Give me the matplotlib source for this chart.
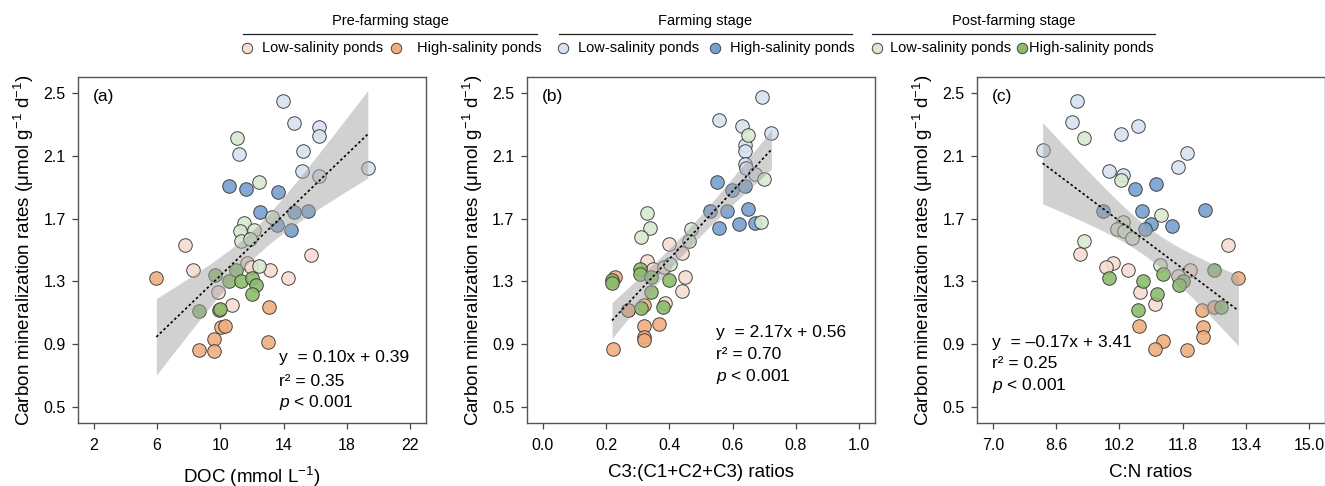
import numpy as np
import matplotlib
matplotlib.use('Agg')
from matplotlib import pyplot as plt
from matplotlib.lines import Line2D

plt.rcParams['font.family'] = ['Liberation Sans', 'DejaVu Sans']
plt.rcParams['mathtext.fontset'] = 'custom'
plt.rcParams['mathtext.rm'] = 'Liberation Sans'
plt.rcParams['mathtext.it'] = 'Liberation Sans:italic'

# groups: pre-farming low/high, farming low/high, post-farming low/high
groups = ['pre_low', 'pre_high', 'farm_low', 'farm_high', 'post_low', 'post_high']
colors = ['#F6DDD2', '#F0AE7E', '#D7E3F1', '#76A0D0', '#D9E9D0', '#8CBC6B']
stages = ['Pre-farming stage', 'Farming stage', 'Post-farming stage']
salinity = ['Low-salinity ponds', 'High-salinity ponds']

# panel (a): DOC
doc_x = [
    [7.77, 8.30, 11.71, 11.92, 13.12, 14.25, 15.76, 9.82, 10.73],
    [5.95, 13.08, 10.04, 10.29, 9.57, 8.63, 9.57, 13.03, 9.93],
    [13.96, 14.65, 16.26, 16.24, 15.2, 11.15, 15.17, 16.26, 19.32],
    [10.52, 11.63, 13.66, 12.49, 14.65, 15.55, 13.58, 14.48],
    [11.08, 12.45, 13.24, 11.5, 11.25, 12.13, 11.33, 11.86, 12.45],
    [9.68, 10.98, 10.56, 11.3, 11.99, 12.24, 11.99, 8.63, 9.99],
]
doc_y = [
    [1.53, 1.37, 1.42, 1.39, 1.37, 1.32, 1.47, 1.23, 1.15],
    [1.32, 1.14, 1.01, 1.02, 0.935, 0.865, 0.86, 0.915, 1.12],
    [2.45, 2.31, 2.28, 2.225, 2.13, 2.11, 2.0, 1.97, 2.02],
    [1.91, 1.89, 1.87, 1.74, 1.74, 1.75, 1.66, 1.63],
    [2.21, 1.935, 1.71, 1.67, 1.62, 1.63, 1.56, 1.57, 1.40],
    [1.34, 1.37, 1.30, 1.30, 1.32, 1.275, 1.22, 1.115, 1.125],
]

# panel (b): C3 ratio
c3_x = [
    [0.400, 0.440, 0.329, 0.347, 0.382, 0.450, 0.440, 0.387, 0.268],
    [0.229, 0.321, 0.271, 0.369, 0.319, 0.319, 0.319, 0.222],
    [0.692, 0.558, 0.629, 0.723, 0.640, 0.640, 0.640, 0.642, 0.671],
    [0.552, 0.599, 0.640, 0.529, 0.581, 0.650, 0.558, 0.620, 0.671],
    [0.650, 0.700, 0.691, 0.329, 0.340, 0.310, 0.469, 0.461, 0.403],
    [0.219, 0.219, 0.306, 0.308, 0.343, 0.400, 0.343, 0.310, 0.380],
]
c3_y = [
    [1.54, 1.48, 1.43, 1.38, 1.39, 1.33, 1.24, 1.16, 1.12],
    [1.33, 1.15, 1.12, 1.03, 1.02, 0.945, 0.925, 0.87],
    [2.47, 2.325, 2.29, 2.245, 2.17, 2.13, 2.045, 2.02, 1.985],
    [1.93, 1.88, 1.91, 1.75, 1.75, 1.76, 1.64, 1.665, 1.67],
    [2.23, 1.95, 1.68, 1.735, 1.64, 1.58, 1.635, 1.56, 1.41],
    [1.31, 1.29, 1.38, 1.345, 1.33, 1.31, 1.23, 1.13, 1.14],
]

# panel (c): C:N
cn_x = [
    [9.21, 10.05, 9.87, 10.43, 12.95, 11.99, 11.67, 10.73, 11.10],
    [13.21, 12.30, 12.59, 10.70, 12.31, 12.31, 11.30, 11.10, 11.90],
    [9.13, 9.0, 10.66, 10.24, 8.26, 11.90, 11.69, 9.93, 10.29],
    [10.60, 11.13, 9.78, 10.77, 12.37, 11.0, 10.85, 11.53],
    [9.30, 10.24, 11.25, 10.29, 10.15, 10.31, 10.52, 9.30, 11.23],
    [12.59, 9.94, 11.30, 10.79, 11.80, 11.72, 11.15, 10.68, 12.76],
]
cn_y = [
    [1.475, 1.42, 1.39, 1.375, 1.535, 1.375, 1.335, 1.235, 1.155],
    [1.32, 1.12, 1.14, 1.02, 1.01, 0.945, 0.92, 0.87, 0.865],
    [2.45, 2.315, 2.29, 2.235, 2.135, 2.115, 2.025, 2.0, 1.975],
    [1.89, 1.92, 1.745, 1.745, 1.755, 1.665, 1.635, 1.65],
    [2.21, 1.945, 1.725, 1.68, 1.635, 1.62, 1.575, 1.555, 1.405],
    [1.375, 1.32, 1.345, 1.30, 1.305, 1.28, 1.22, 1.12, 1.135],
]

panel_labels = ['(a)', '(b)', '(c)']
x_labels = ['DOC (mmol L$^{-1}$)', 'C3:(C1+C2+C3) ratios', 'C:N ratios']
eq_texts = ['y  = 0.10x + 0.39', 'y  = 2.17x + 0.56', 'y  = \u20130.17x + 3.41']
r2_texts = ['r\u00b2 = 0.35', 'r\u00b2 = 0.70', 'r\u00b2 = 0.25']
x_ticks = [[2, 6, 10, 14, 18, 22], [0.0, 0.2, 0.4, 0.6, 0.8, 1.0],
           [7.0, 8.6, 10.2, 11.8, 13.4, 15.0]]
x_ticklabels = [['2', '6', '10', '14', '18', '22'],
                ['0.0', '0.2', '0.4', '0.6', '0.8', '1.0'],
                ['7.0', '8.6', '10.2', '11.8', '13.4', '15.0']]
x_lims = [(1, 23), (-0.05, 1.05), (6.6, 15.4)]
y_ticks = [0.5, 0.9, 1.3, 1.7, 2.1, 2.5]

fig = plt.figure(figsize=(13.25, 4.86), dpi=100)
lefts = [0.0589, 0.3977, 0.7374]
# where the equation text sits (axes fraction), per panel
txt_pos = [(0.577, [0.188, 0.121, 0.058]), (0.543, [0.263, 0.197, 0.133]),
           (0.043, [0.234, 0.171, 0.107])]

all_x = [doc_x, c3_x, cn_x]
all_y = [doc_y, c3_y, cn_y]

for i in range(3):
    ax = fig.add_axes([lefts[i], 0.1296, 0.2626, 0.7119])
    for g in range(6):
        ax.scatter(all_x[i][g], all_y[i][g], s=95, color=colors[g], edgecolor='#333333',
                   linewidth=0.7, alpha=0.9, zorder=2)

    # linear fit + 95% CI of the mean
    xx = np.concatenate([np.array(v) for v in all_x[i]])
    yy = np.concatenate([np.array(v) for v in all_y[i]])
    b, a = np.polyfit(xx, yy, 1)
    n = len(xx)
    resid = yy - (a + b * xx)
    s = np.sqrt(np.sum(resid ** 2) / (n - 2))
    xs = np.linspace(xx.min(), xx.max(), 100)
    se = s * np.sqrt(1 / n + (xs - xx.mean()) ** 2 / np.sum((xx - xx.mean()) ** 2))
    ys = a + b * xs
    ax.fill_between(xs, ys - 2.01 * se, ys + 2.01 * se, color='#a4a4a4', alpha=0.5,
                    lw=0, zorder=3)
    ax.plot(xs, ys, color='black', ls=(0, (1.5, 1.5)), lw=1.2, zorder=4)

    ax.set_xlim(x_lims[i])
    ax.set_ylim(0.4, 2.6)
    ax.set_xticks(x_ticks[i])
    ax.set_xticklabels(x_ticklabels[i])
    ax.set_yticks(y_ticks)
    ax.tick_params(direction='out', length=4, width=0.9, color='#444444', labelsize=11.5)
    ax.tick_params(axis='x', pad=7)
    ax.tick_params(axis='y', pad=5)
    for sp in ax.spines.values():
        sp.set_color('#555555')
        sp.set_linewidth(1)
    ax.set_xlabel(x_labels[i], fontsize=13.5, labelpad=8)
    ax.set_ylabel('Carbon mineralization rates (\u03bcmol g$^{-1}$ d$^{-1}$)', fontsize=13.5,
                  labelpad=5)
    ax.text(0.043, 0.945, panel_labels[i], transform=ax.transAxes, fontsize=12.5,
            va='center', ha='left')
    tx, tys = txt_pos[i]
    ax.text(tx, tys[0], eq_texts[i], transform=ax.transAxes, fontsize=12.5, va='center')
    ax.text(tx, tys[1], r2_texts[i], transform=ax.transAxes, fontsize=12.5, va='center')
    ax.text(tx, tys[2], '$\\mathit{p}$ < 0.001', transform=ax.transAxes, fontsize=12.5,
            va='center')

# legend on top: stage titles, rule lines and entries (pixel positions / figure size)
W, H = 1325.0, 486.0
stage_lines = [(243, 537), (559, 852), (872, 1155)]
for k in range(3):
    x0, x1 = stage_lines[k]
    fig.text((x0 + x1) / 2 / W, 1 - 21 / H, stages[k], ha='center', va='center', fontsize=10.5)
    fig.add_artist(Line2D([x0 / W, x1 / W], [1 - 34 / H, 1 - 34 / H], color='#222222',
                          lw=0.9, transform=fig.transFigure))

marker_px = [247, 396, 563, 715, 877, 1022]
text_px = [262, 417, 578, 730, 890, 1029]
for g in range(6):
    fig.add_artist(Line2D([marker_px[g] / W], [1 - 48 / H], marker='o', markersize=7.5,
                          markerfacecolor=colors[g], markeredgecolor='#444444',
                          markeredgewidth=0.7, transform=fig.transFigure))
    fig.text(text_px[g] / W, 1 - 48 / H, salinity[g % 2], ha='left', va='center',
             fontsize=10.5)

fig.savefig('out.png', dpi=100)
